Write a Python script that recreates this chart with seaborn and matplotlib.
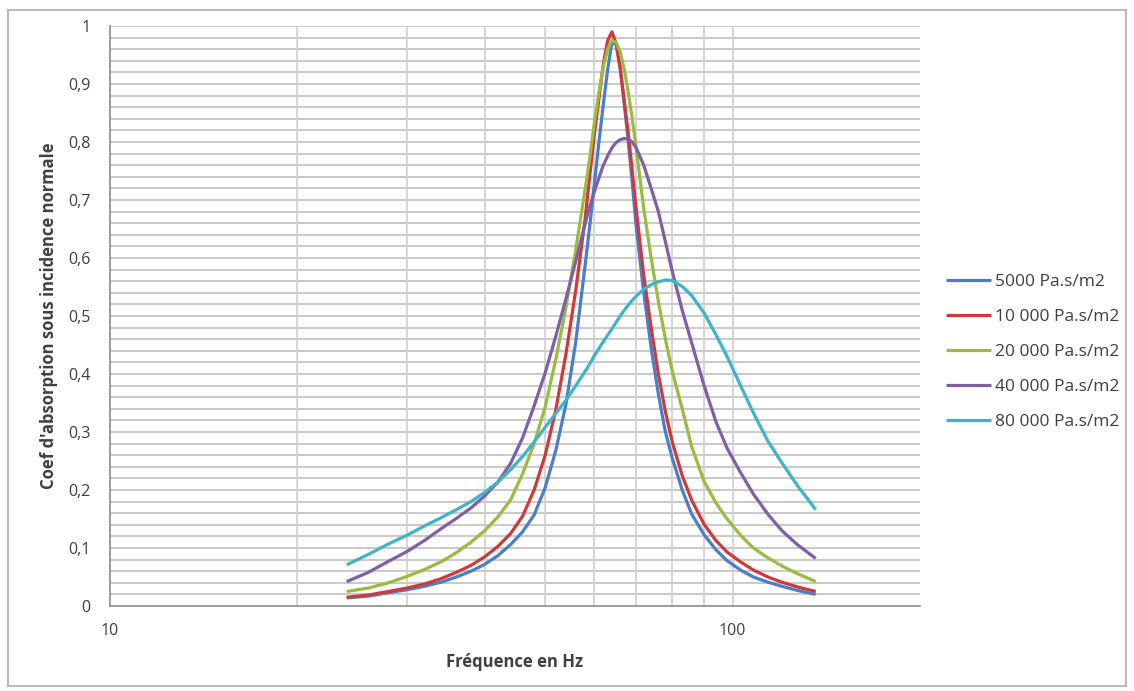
import numpy as np
import pandas as pd
import matplotlib
matplotlib.use("Agg")
import matplotlib.pyplot as plt
import matplotlib.ticker as mticker
from matplotlib.patches import Rectangle
import seaborn as sns

freq = [24, 26, 28, 30, 32, 34, 36, 38, 40, 42, 44, 46, 48, 50, 52, 54, 56, 58, 59, 60,
        61, 62, 63, 64, 65, 66, 67, 68, 69, 70, 72, 74, 76, 78, 80, 83, 86, 90, 94, 98,
        103, 108, 114, 120, 127, 136]

s5000 = [0.014, 0.017, 0.023, 0.028, 0.034, 0.041, 0.050, 0.060, 0.072, 0.087,
         0.106, 0.128, 0.157, 0.204, 0.268, 0.348, 0.456, 0.59, 0.658, 0.73,
         0.80, 0.865, 0.925, 0.972, 0.968, 0.93, 0.865, 0.80, 0.73, 0.655,
         0.54, 0.445, 0.365, 0.30, 0.255, 0.20, 0.158, 0.123, 0.097, 0.078,
         0.062, 0.050, 0.041, 0.034, 0.027, 0.020]
s10000 = [0.015, 0.019, 0.025, 0.031, 0.038, 0.047, 0.058, 0.070, 0.085, 0.103,
          0.125, 0.155, 0.200, 0.260, 0.338, 0.435, 0.545, 0.67, 0.745, 0.815,
          0.875, 0.935, 0.975, 0.99, 0.97, 0.925, 0.87, 0.815, 0.75, 0.685,
          0.57, 0.48, 0.40, 0.335, 0.283, 0.225, 0.182, 0.141, 0.113, 0.093,
          0.076, 0.062, 0.050, 0.041, 0.033, 0.025]
s20000 = [0.025, 0.031, 0.040, 0.051, 0.063, 0.076, 0.092, 0.11, 0.13, 0.154,
          0.183, 0.228, 0.28, 0.343, 0.425, 0.515, 0.615, 0.72, 0.775, 0.835,
          0.885, 0.93, 0.96, 0.975, 0.972, 0.955, 0.925, 0.885, 0.84, 0.79,
          0.685, 0.60, 0.525, 0.46, 0.405, 0.34, 0.274, 0.215, 0.178, 0.15,
          0.122, 0.10, 0.083, 0.069, 0.056, 0.042]
s40000 = [0.042, 0.058, 0.077, 0.094, 0.113, 0.133, 0.151, 0.169, 0.190, 0.214,
          0.246, 0.29, 0.345, 0.402, 0.465, 0.53, 0.595, 0.66, 0.69, 0.715,
          0.738, 0.76, 0.776, 0.79, 0.799, 0.804, 0.806, 0.805, 0.80, 0.79,
          0.76, 0.72, 0.68, 0.628, 0.577, 0.51, 0.453, 0.38, 0.318, 0.272,
          0.23, 0.193, 0.158, 0.13, 0.106, 0.082]
s80000 = [0.071, 0.089, 0.107, 0.122, 0.138, 0.152, 0.166, 0.18, 0.196, 0.214,
          0.235, 0.258, 0.283, 0.308, 0.332, 0.355, 0.38, 0.405, 0.418, 0.432,
          0.444, 0.456, 0.467, 0.478, 0.489, 0.50, 0.51, 0.519, 0.527, 0.534,
          0.546, 0.554, 0.559, 0.562, 0.561, 0.551, 0.535, 0.505, 0.468, 0.43,
          0.38, 0.333, 0.284, 0.247, 0.208, 0.166]

series_names = ["5000 Pa.s/m2", "10 000 Pa.s/m2", "20 000 Pa.s/m2",
                "40 000 Pa.s/m2", "80 000 Pa.s/m2"]
series_values = [s5000, s10000, s20000, s40000, s80000]
colors = ["#4A7EC8", "#D0393A", "#9BBB3F", "#7E5FA8", "#3DB4CC"]

y_ticks = [0, 0.1, 0.2, 0.3, 0.4, 0.5, 0.6, 0.7, 0.8, 0.9, 1.0]
y_tick_labels = ["0", "0,1", "0,2", "0,3", "0,4", "0,5", "0,6", "0,7", "0,8", "0,9", "1"]
x_ticks = [10, 100]
x_tick_labels = ["10", "100"]

rows = []
for name, vals in zip(series_names, series_values):
    for f, v in zip(freq, vals):
        rows.append({"freq": f, "alpha": v, "serie": name})
df = pd.DataFrame(rows)

sns.set_style("white")
plt.rcParams["font.family"] = ["Open Sans", "DejaVu Sans"]

fig = plt.figure(figsize=(11.34, 6.91), dpi=100)
ax = fig.add_axes([110 / 1134, 1 - 606 / 691, 810 / 1134, 580 / 691])

grid_c = "#c0c0c0"
ax.set_xscale("log")
ax.set_xlim(10, 200)
ax.set_ylim(0, 1)

for yv in np.arange(0.02, 1.001, 0.02):
    ax.axhline(yv, color=grid_c, lw=1.2, zorder=0)
for xv in [20, 30, 40, 50, 60, 70, 80, 90, 100]:
    ax.axvline(xv, color="#d0d0d0", lw=1.2, zorder=0)

sns.lineplot(data=df, x="freq", y="alpha", hue="serie", hue_order=series_names,
             palette=colors, linewidth=2.3, ax=ax, legend=True, sort=True)
for ln in ax.get_lines():
    ln.set_solid_joinstyle("round")
    ln.set_solid_capstyle("butt")

ax.set_yticks(y_ticks)
ax.set_yticklabels(y_tick_labels)
ax.set_xticks(x_ticks)
ax.set_xticklabels(x_tick_labels)
ax.xaxis.set_minor_locator(mticker.NullLocator())
ax.tick_params(axis="both", colors="#8c8c8c", labelcolor="#404040", labelsize=11.5,
               length=5, width=1.2, direction="out")
ax.tick_params(axis="x", pad=7)
ax.tick_params(axis="y", pad=9)

for s in ["top", "right"]:
    ax.spines[s].set_visible(False)
for s in ["left", "bottom"]:
    ax.spines[s].set_color("#8c8c8c")
    ax.spines[s].set_linewidth(1.2)

ax.set_xlabel("Fréquence en Hz", fontsize=12, fontweight="bold", color="#404040",
              labelpad=10)
ax.set_ylabel("Coef d'absorption sous incidence normale", fontsize=12,
              fontweight="bold", color="#404040", labelpad=7)

leg = ax.legend(loc="center left", bbox_to_anchor=(1.0235, 0.438), borderaxespad=0,
                frameon=False, fontsize=12.5, handlelength=2.6, labelspacing=1.08,
                handletextpad=0.22, labelcolor="#404040")
for line in leg.get_lines():
    line.set_linewidth(2.3)

fig.patches.append(Rectangle((8 / 1134, 5 / 691), 1118 / 1134, 676 / 691,
                             transform=fig.transFigure, fill=False,
                             edgecolor="#bcbcbc", lw=1.5))

fig.savefig("out.png", dpi=100)
